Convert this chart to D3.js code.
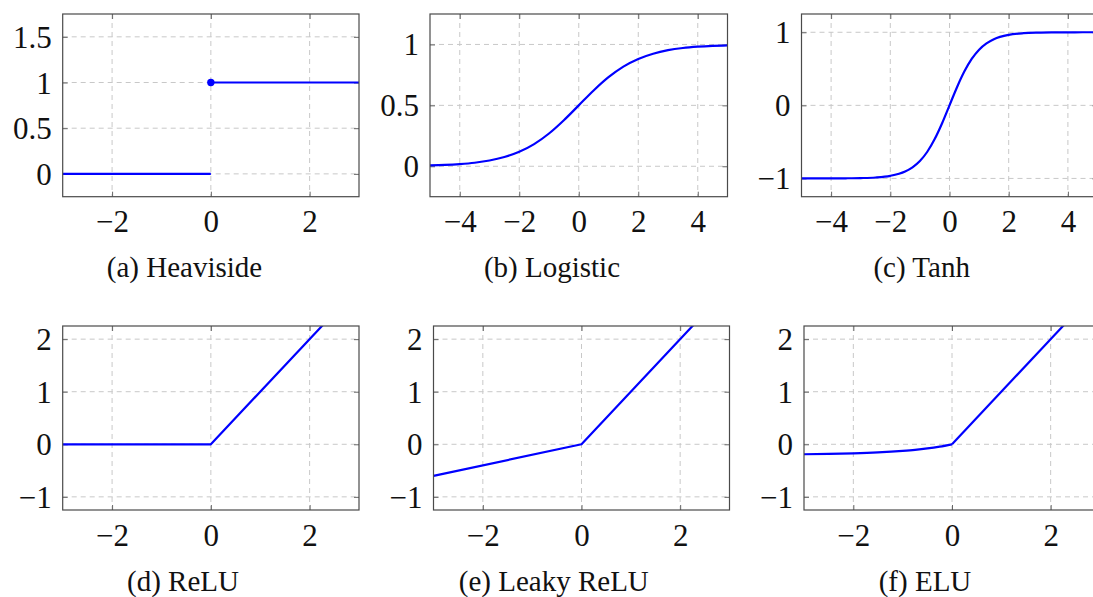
<!DOCTYPE html>
<html>
<head>
<meta charset="utf-8">
<script src="https://cdn.jsdelivr.net/npm/d3@7"></script>
<style>
  body { margin: 0; background: #fff; }
  svg { display: block; }
</style>
</head>
<body>
<div id="vis"></div>
<script>
// Dimensiones de la figura
const ancho = 1093;
const alto = 597;

// Datos de cada funcion
const heavisideIzqX = [-3, 0];
const heavisideIzqY = [0, 0];
const heavisideDerX = [0, 3];
const heavisideDerY = [1, 1];

const logisticaX = [-5, -4.5, -4, -3.5, -3, -2.5, -2, -1.5, -1, -0.5, 0, 0.5, 1, 1.5, 2, 2.5, 3, 3.5, 4, 4.5, 5];
const logisticaY = [0.007, 0.011, 0.018, 0.029, 0.047, 0.076, 0.119, 0.182, 0.269, 0.378, 0.5, 0.622, 0.731, 0.818, 0.881, 0.924, 0.953, 0.971, 0.982, 0.989, 0.993];

const tanhX = [-5, -4.5, -4, -3.5, -3, -2.5, -2, -1.5, -1.25, -1, -0.75, -0.5, -0.25, 0, 0.25, 0.5, 0.75, 1, 1.25, 1.5, 2, 2.5, 3, 3.5, 4, 4.5, 5];
const tanhY = [-1, -1, -0.999, -0.998, -0.995, -0.987, -0.964, -0.905, -0.848, -0.762, -0.635, -0.462, -0.245, 0, 0.245, 0.462, 0.635, 0.762, 0.848, 0.905, 0.964, 0.987, 0.995, 0.998, 0.999, 1, 1];

const reluX = [-3, 0, 3];
const reluY = [0, 0, 3];

const leakyX = [-3, 0, 3];
const leakyY = [-0.6, 0, 3];

const eluNegX = [-3, -2.5, -2, -1.5, -1, -0.75, -0.5, -0.25, 0];
const eluNegY = [-0.19, -0.184, -0.173, -0.155, -0.126, -0.106, -0.079, -0.044, 0];
const eluPosX = [0, 3];
const eluPosY = [0, 3];

const titulos = ["(a) Heaviside", "(b) Logistic", "(c) Tanh", "(d) ReLU", "(e) Leaky ReLU", "(f) ELU"];

const ticksX3 = [-2, 0, 2];
const ticksX5 = [-4, -2, 0, 2, 4];
const ticksYHeaviside = [0, 0.5, 1, 1.5];
const ticksYLogistica = [0, 0.5, 1];
const ticksYTanh = [-1, 0, 1];
const ticksYRelu = [-1, 0, 1, 2];

// Paneles: posicion y dominios
const paneles = [
  { x: 62.7, y: 14, w: 296.3, h: 182.7, cx: 184.5, dx: [-3, 3], dy: [-0.25, 1.75], tx: ticksX3, ty: ticksYHeaviside,
    series: [[heavisideIzqX, heavisideIzqY], [heavisideDerX, heavisideDerY]], punto: [0, 1], curva: d3.curveLinear },
  { x: 430, y: 14, w: 297.5, h: 182.7, cx: 552, dx: [-5, 5], dy: [-0.25, 1.25], tx: ticksX5, ty: ticksYLogistica,
    series: [[logisticaX, logisticaY]], curva: d3.curveMonotoneX },
  { x: 801.5, y: 14, w: 296, h: 182.7, cx: 921.7, dx: [-5, 5], dy: [-1.25, 1.25], tx: ticksX5, ty: ticksYTanh,
    series: [[tanhX, tanhY]], curva: d3.curveMonotoneX },
  { x: 62.7, y: 326, w: 296.3, h: 184, cx: 183, dx: [-3, 3], dy: [-1.25, 2.25], tx: ticksX3, ty: ticksYRelu,
    series: [[reluX, reluY]], curva: d3.curveLinear },
  { x: 433.5, y: 326, w: 296, h: 184, cx: 553.8, dx: [-3, 3], dy: [-1.25, 2.25], tx: ticksX3, ty: ticksYRelu,
    series: [[leakyX, leakyY]], curva: d3.curveLinear },
  { x: 804, y: 326, w: 296, h: 184, cx: 925, dx: [-3, 3], dy: [-1.25, 2.25], tx: ticksX3, ty: ticksYRelu,
    series: [[eluNegX, eluNegY], [eluPosX, eluPosY]], curva: d3.curveMonotoneX }
];

const fuente = "'Liberation Serif', 'Times New Roman', serif";
const colorLinea = "#0000ff";
const colorMarco = "#4a4a4a";
const colorGrid = "#c8c8c8";
const largoTick = 5;

const formato = v => {
  const s = String(v);
  return v < 0 ? "\u2212" + s.slice(1) : s;
};

const svg = d3.select("#vis")
  .append("svg")
  .attr("width", ancho)
  .attr("height", alto);

paneles.forEach((p, i) => {
  const escalaX = d3.scaleLinear().domain(p.dx).range([0, p.w]);
  const escalaY = d3.scaleLinear().domain(p.dy).range([p.h, 0]);

  const g = svg.append("g")
    .attr("transform", `translate(${p.x},${p.y})`);

  // Grid discontinuo
  g.selectAll(".gridx")
    .data(p.tx)
    .enter()
    .append("line")
    .attr("x1", d => escalaX(d))
    .attr("x2", d => escalaX(d))
    .attr("y1", 0)
    .attr("y2", p.h)
    .attr("stroke", colorGrid)
    .attr("stroke-width", 1)
    .attr("stroke-dasharray", "5,4");

  g.selectAll(".gridy")
    .data(p.ty)
    .enter()
    .append("line")
    .attr("x1", 0)
    .attr("x2", p.w)
    .attr("y1", d => escalaY(d))
    .attr("y2", d => escalaY(d))
    .attr("stroke", colorGrid)
    .attr("stroke-width", 1)
    .attr("stroke-dasharray", "5,4");

  // Ticks hacia dentro en los cuatro lados
  const ejeAbajo = g.append("g")
    .attr("transform", `translate(0,${p.h})`)
    .call(d3.axisBottom(escalaX).tickValues(p.tx).tickSize(-largoTick).tickFormat(formato));
  const ejeArriba = g.append("g")
    .call(d3.axisTop(escalaX).tickValues(p.tx).tickSize(-largoTick).tickFormat(""));
  const ejeIzq = g.append("g")
    .call(d3.axisLeft(escalaY).tickValues(p.ty).tickSize(-largoTick).tickFormat(formato).tickPadding(11));
  const ejeDer = g.append("g")
    .attr("transform", `translate(${p.w},0)`)
    .call(d3.axisRight(escalaY).tickValues(p.ty).tickSize(-largoTick).tickFormat(""));

  [ejeAbajo, ejeArriba, ejeIzq, ejeDer].forEach(e => {
    e.select(".domain").remove();
    e.selectAll(".tick line").attr("stroke", "#666").attr("stroke-width", 1);
    e.selectAll("text")
      .attr("fill", "#111")
      .style("font-family", fuente)
      .style("font-size", "31px");
  });
  ejeAbajo.selectAll("text").attr("y", 35.5).attr("dy", null);
  ejeIzq.selectAll("text").attr("dy", "0.34em");

  // Recorte del area del grafico
  const idClip = "clip" + i;
  g.append("clipPath")
    .attr("id", idClip)
    .append("rect")
    .attr("width", p.w)
    .attr("height", p.h);

  const linea = d3.line()
    .x(d => escalaX(d[0]))
    .y(d => escalaY(d[1]))
    .curve(p.curva);

  g.append("g")
    .attr("clip-path", `url(#${idClip})`)
    .selectAll(".serie")
    .data(p.series)
    .enter()
    .append("path")
    .attr("class", "serie")
    .attr("d", s => linea(s[0].map((x, k) => [x, s[1][k]])))
    .attr("fill", "none")
    .attr("stroke", colorLinea)
    .attr("stroke-width", 2.2)
    .attr("stroke-linejoin", "round");

  if (p.punto) {
    g.append("circle")
      .attr("cx", escalaX(p.punto[0]))
      .attr("cy", escalaY(p.punto[1]))
      .attr("r", 3.7)
      .attr("fill", colorLinea);
  }

  // Marco
  g.append("rect")
    .attr("width", p.w)
    .attr("height", p.h)
    .attr("fill", "none")
    .attr("stroke", colorMarco)
    .attr("stroke-width", 1.2);

  // Titulo del subgrafico
  svg.append("text")
    .attr("x", p.cx)
    .attr("y", p.y + p.h + 80.5)
    .attr("text-anchor", "middle")
    .attr("fill", "#111")
    .style("font-family", fuente)
    .style("font-size", "29px")
    .text(titulos[i]);
});
</script>
</body>
</html>
